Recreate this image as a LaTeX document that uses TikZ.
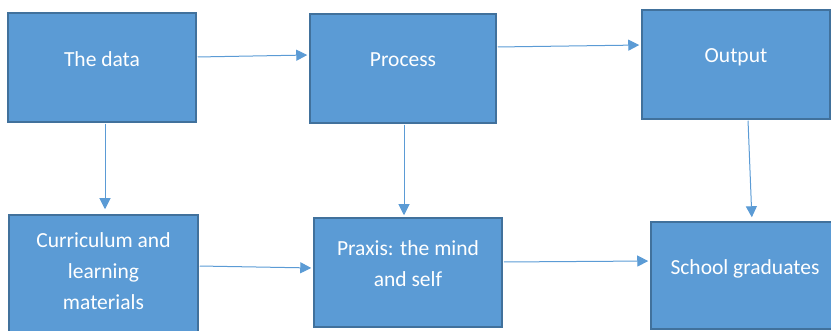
\documentclass[tikz,border=0pt]{standalone}
\usepackage{fontspec}
\setmainfont{Carlito}
\usetikzlibrary{arrows.meta,positioning}

\definecolor{boxfill}{HTML}{5B9BD5}
\definecolor{boxline}{HTML}{41719C}

\begin{document}
\begin{tikzpicture}[x=1pt, y=-1pt,
		box/.style={draw=boxline, line width=1.5pt, fill=boxfill, text=white, align=center,
			font=\fontsize{21.5}{31}\selectfont, text depth=17pt, inner sep=0pt},
		flow/.style={draw=boxfill, line width=1pt, -{Triangle[length=11pt,width=11pt]},
			shorten >=2pt, shorten <=1pt}]
	% Page frame
	\clip (0,0) rectangle (831,331);

	% Top row
	\node[box, minimum width=188pt, minimum height=109pt] (data) at (102,67.5) {The data};
	\node[box, minimum width=186pt, minimum height=109pt] (process) at (403,68.5) {Process};
	\node[box, minimum width=188pt, minimum height=109pt] (output) at (736,64.5) {Output};

	% Bottom row
	\node[box, minimum width=189pt, minimum height=129pt] (curriculum) at (103.5,279.5) {Curriculum and\\learning\\materials};
	\node[box, minimum width=188pt, minimum height=109pt] (praxis) at (408,272.5) {Praxis: the mind\\and self};
	\node[box, minimum width=188pt, minimum height=107pt] (graduates) at (745,275.5) {School graduates};

	% Arrows along the rows
	\draw[flow] ([yshift=10.5pt]data.east) -- ([yshift=13.5pt]process.west);
	\draw[flow] ([yshift=21.5pt]process.east) -- ([yshift=19.5pt]output.west);
	\draw[flow] ([yshift=13.5pt]curriculum.east) -- ([yshift=4.5pt]praxis.west);
	\draw[flow] ([yshift=10.5pt]praxis.east) -- ([yshift=14.5pt]graduates.west);

	% Arrows down the columns
	\draw[flow, shorten >=5pt] ([xshift=3pt]data.south) -- ([xshift=1.5pt]curriculum.north);
	\draw[flow] ([xshift=1pt]process.south) -- ([xshift=-4pt]praxis.north);
	\draw[flow, shorten >=4pt] ([xshift=12pt]output.south) -- ([xshift=7pt]graduates.north);
\end{tikzpicture}
\end{document}
